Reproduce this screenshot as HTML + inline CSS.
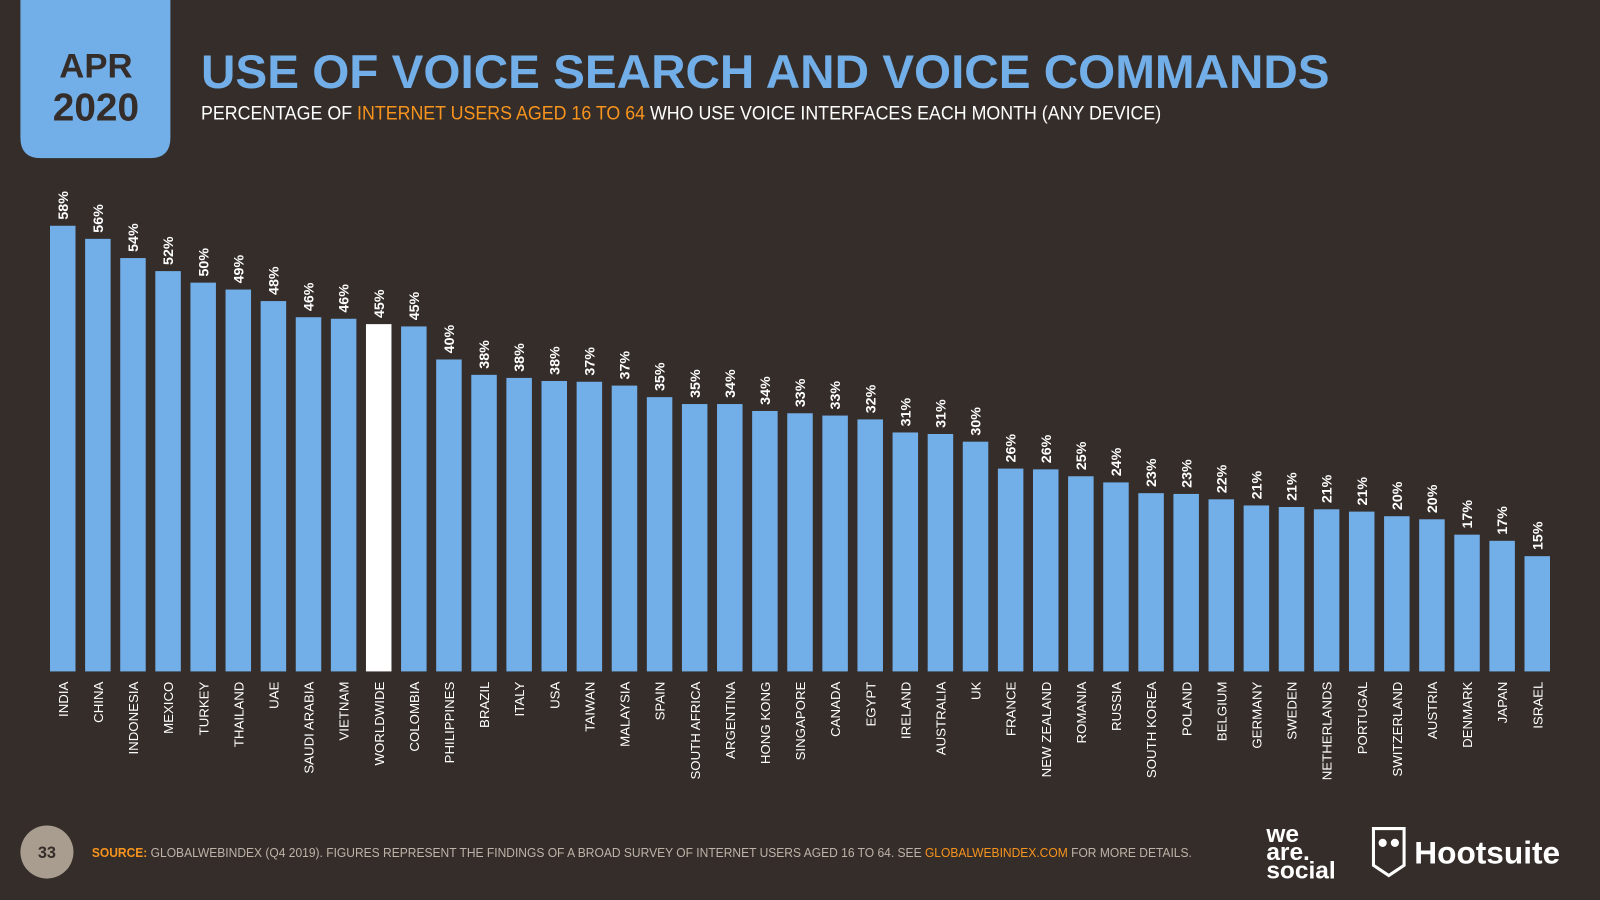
<!DOCTYPE html>
<html><head><meta charset="utf-8"><style>
html,body{margin:0;padding:0;background:#352d29;width:1600px;height:900px;overflow:hidden}
svg{display:block;font-family:"Liberation Sans",sans-serif}
</style></head><body>
<svg width="1600" height="900" viewBox="0 0 1568 882" preserveAspectRatio="none">
<rect width="1568" height="882" fill="#352d29"/>
<path d="M20 0 H167 V135 Q167 155 147 155 H40 Q20 155 20 135 Z" fill="#72aee8"/>
<text x="94" y="76" text-anchor="middle" font-size="34" font-weight="bold" fill="#352d29">APR</text>
<text x="94" y="118" text-anchor="middle" font-size="38" font-weight="bold" fill="#352d29">2020</text>
<text x="197" y="86" font-size="46" font-weight="bold" fill="#72aee8" textLength="1106" lengthAdjust="spacingAndGlyphs">USE OF VOICE SEARCH AND VOICE COMMANDS</text>
<text x="197" y="117" font-size="19" fill="#ffffff" textLength="941" lengthAdjust="spacingAndGlyphs">PERCENTAGE OF <tspan fill="#f7941d">INTERNET USERS AGED 16 TO 64</tspan> WHO USE VOICE INTERFACES EACH MONTH (ANY DEVICE)</text>
<g id="bars"></g>
<circle cx="46" cy="835" r="26" fill="#a99d8f"/>
<text x="46" y="841" text-anchor="middle" font-size="16" font-weight="bold" fill="#352d29">33</text>
<text x="90" y="840" font-size="13" fill="#bdb3a8" textLength="1078" lengthAdjust="spacingAndGlyphs"><tspan fill="#f7941d" font-weight="bold">SOURCE:</tspan> GLOBALWEBINDEX (Q4 2019). FIGURES REPRESENT THE FINDINGS OF A BROAD SURVEY OF INTERNET USERS AGED 16 TO 64. SEE <tspan fill="#f7941d">GLOBALWEBINDEX.COM</tspan> FOR MORE DETAILS.</text>
<g fill="#fff" font-weight="bold" font-size="24">
<text x="1241" y="825">we</text><text x="1241" y="843">are.</text><text x="1241" y="861">social</text></g>
<g>
<path d="M1346 812 H1376 V848 L1361 858 L1346 848 Z" fill="none" stroke="#fff" stroke-width="3"/>
<circle cx="1355" cy="826" r="4" fill="#fff"/><circle cx="1367" cy="826" r="4" fill="#fff"/>
<text x="1386" y="846" font-size="31" font-weight="bold" fill="#fff">Hootsuite</text></g>
<script>
var categories=["INDIA","CHINA","INDONESIA","MEXICO","TURKEY","THAILAND","UAE","SAUDI ARABIA","VIETNAM","WORLDWIDE","COLOMBIA","PHILIPPINES","BRAZIL","ITALY","USA","TAIWAN","MALAYSIA","SPAIN","SOUTH AFRICA","ARGENTINA","HONG KONG","SINGAPORE","CANADA","EGYPT","IRELAND","AUSTRALIA","UK","FRANCE","NEW ZEALAND","ROMANIA","RUSSIA","SOUTH KOREA","POLAND","BELGIUM","GERMANY","SWEDEN","NETHERLANDS","PORTUGAL","SWITZERLAND","AUSTRIA","DENMARK","JAPAN","ISRAEL"];
var values=[58.0,56.3,53.8,52.1,50.6,49.7,48.2,46.1,45.9,45.2,44.9,40.6,38.6,38.2,37.8,37.7,37.2,35.7,34.8,34.8,33.9,33.6,33.3,32.8,31.1,30.9,29.9,26.4,26.3,25.4,24.6,23.2,23.1,22.4,21.6,21.4,21.1,20.8,20.2,19.8,17.8,17.0,15.0];
var valueLabels=["58%","56%","54%","52%","50%","49%","48%","46%","46%","45%","45%","40%","38%","38%","38%","37%","37%","35%","35%","34%","34%","33%","33%","32%","31%","31%","30%","26%","26%","25%","24%","23%","23%","22%","21%","21%","21%","21%","20%","20%","17%","17%","15%"];
var highlight="WORLDWIDE";
var NS="http://www.w3.org/2000/svg";
var g=document.getElementById("bars");
var base=658,x0=49,bw=25,step=(1519-bw-x0)/(categories.length-1),pxPer=7.53;
function xPos(i){return x0+i*step;}
function yPos(v){return base-v*pxPer;}
categories.forEach(function(c,i){
  var x=xPos(i),y=yPos(values[i]),cx=x+bw/2;
  var r=document.createElementNS(NS,"rect");
  r.setAttribute("x",x);r.setAttribute("y",y);r.setAttribute("width",bw);r.setAttribute("height",base-y);
  r.setAttribute("fill",c===highlight?"#ffffff":"#72aee8");
  
  
  g.appendChild(r);
  var t=document.createElementNS(NS,"text");
  t.setAttribute("transform","translate("+(cx+5)+","+(y-6)+") rotate(-90)");
  t.setAttribute("font-size","14");t.setAttribute("font-weight","bold");t.setAttribute("fill","#fff");
  t.textContent=valueLabels[i];
  
  
  g.appendChild(t);
  var l=document.createElementNS(NS,"text");
  l.setAttribute("transform","translate("+(cx+5)+","+(base+10)+") rotate(-90)");
  l.setAttribute("text-anchor","end");l.setAttribute("font-size","13");l.setAttribute("fill","#fff");
  l.textContent=c;
  
  
  g.appendChild(l);
});
</script>
</svg>
</body></html>
